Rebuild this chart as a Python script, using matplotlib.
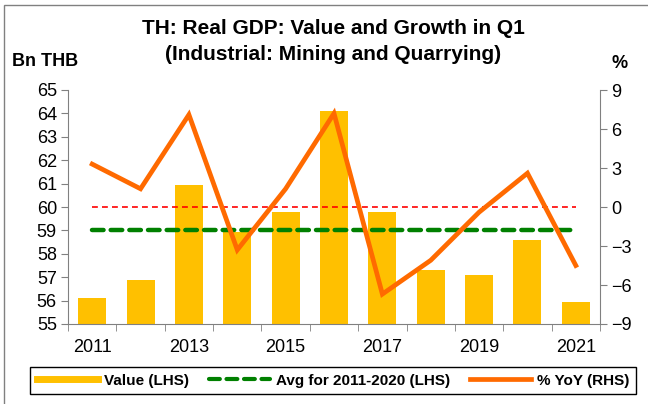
import matplotlib
matplotlib.use("Agg")
import matplotlib.pyplot as plt
from matplotlib.lines import Line2D
from matplotlib.patches import Rectangle
import numpy as np

plt.rcParams.update({"font.family": ["Liberation Sans", "DejaVu Sans"], "font.size": 13})

years = [2011, 2012, 2013, 2014, 2015, 2016, 2017, 2018, 2019, 2020, 2021]
value_bn = [56.1, 56.9, 60.95, 58.95, 59.8, 64.1, 59.8, 57.3, 57.1, 58.6, 55.95]
yoy_pct = [3.3, 1.4, 7.1, -3.3, 1.4, 7.2, -6.7, -4.1, -0.4, 2.6, -4.5]
avg_2011_2020 = 59.0
zero_pct = 0.0

YEL = "#FFC000"; ORG = "#FF6A00"; GRN = "#008000"; RED = "#FF0000"; GRY = "#808080"

fig = plt.figure(figsize=(6.48, 4.04), dpi=100)
ax = fig.add_axes([68/648, 1-324/404, 532/648, 234/404])
ax2 = ax.twinx()
x = np.arange(len(years))

ax.bar(x, value_bn, width=0.58, color=YEL, zorder=2)
ax.plot(x, [avg_2011_2020]*len(x), color=GRN, lw=3.2, dashes=(2.6, 1.6),
        dash_capstyle="round", zorder=3)
ax2.plot(x, [zero_pct]*len(x), color=RED, lw=1.2, dashes=(3.5, 2.5), zorder=3)
ax2.plot(x, yoy_pct, color=ORG, lw=3.4, solid_joinstyle="miter", zorder=4)

ax.set_ylim(55, 65); ax.set_yticks(range(55, 66))
ax2.set_ylim(-9, 9); ax2.set_yticks(range(-9, 10, 3))
ax.set_xlim(-0.5, len(x)-0.5)
ax.set_xticks(x[::2]); ax.set_xticklabels([str(y) for y in years[::2]])
ax.set_xticks(np.arange(-0.5, len(x)), minor=True)
ax.tick_params(axis="x", which="major", length=0, pad=11, labelsize=13)
ax.tick_params(axis="x", which="minor", length=5, color=GRY, direction="out")
ax.tick_params(axis="y", length=5, color=GRY, labelsize=13, pad=3)
ax2.tick_params(axis="y", length=5, color=GRY, labelsize=13, pad=3)
for a in (ax, ax2):
    a.spines["top"].set_visible(False)
    for s in ("left", "right", "bottom"):
        a.spines[s].set_color(GRY)
ax.spines["right"].set_visible(False)
ax2.spines["left"].set_visible(False); ax2.spines["bottom"].set_visible(False)

fig.text(333/648, 1-29/404, "TH: Real GDP: Value and Growth in Q1", ha="center", va="center",
         fontsize=15, fontweight="bold")
fig.text(333/648, 1-54/404, "(Industrial: Mining and Quarrying)", ha="center", va="center",
         fontsize=15, fontweight="bold")
fig.text(12/648, 1-61/404, "Bn THB", ha="left", va="center", fontsize=13, fontweight="bold")
fig.text(620/648, 1-64/404, "%", ha="center", va="center", fontsize=13, fontweight="bold")

handles = [Line2D([], [], color=YEL, lw=5),
           Line2D([], [], color=GRN, lw=3, dashes=(2.6, 1.6), dash_capstyle="round"),
           Line2D([], [], color=ORG, lw=3.4)]
labels = ["Value (LHS)", "Avg for 2011-2020 (LHS)", "% YoY (RHS)"]
leg = fig.legend(handles, labels, loc="center", bbox_to_anchor=(333/648, 1-380.5/404), ncol=3,
                 fancybox=False, edgecolor="black", framealpha=1, handlelength=4.0,
                 columnspacing=1.3, handletextpad=0.4, borderpad=0.45,
                 prop={"weight": "bold", "size": 11})
leg.get_frame().set_linewidth(1)

fig.patches.append(Rectangle((4/648, -0.1), 1, 1-5/404+0.1, transform=fig.transFigure,
                             fill=False, edgecolor=GRY, lw=1))
fig.savefig("out.png", dpi=100)
